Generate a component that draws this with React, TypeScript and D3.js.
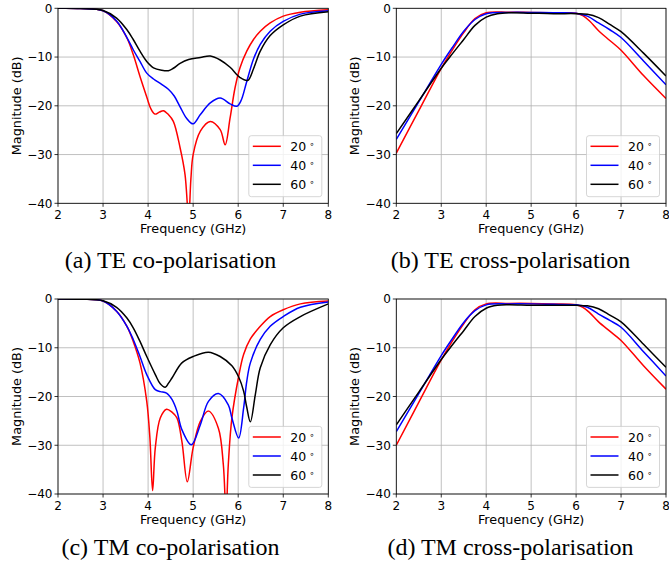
import React from 'react'
import { scaleLinear, line, curveCatmullRom } from 'd3'

type Pt = [number, number]

// frequency (GHz), magnitude (dB)
const teCo20: Pt[] = [[2, 0], [2.5, -0.05], [3, -0.5], [3.3, -2.7], [3.53, -6.1], [3.67, -9.5], [3.82, -14], [3.97, -18.2], [4.06, -20.6], [4.15, -21.7], [4.25, -21.3], [4.34, -21], [4.45, -21.8], [4.56, -23.2], [4.71, -28.6], [4.82, -34.1], [4.9, -43], [4.95, -35], [5.0, -30], [5.16, -25.2], [5.38, -23.2], [5.6, -24.9], [5.71, -28], [5.82, -22.5], [5.93, -16.3], [6.04, -12.2], [6.19, -8.8], [6.34, -6.4], [6.49, -4.7], [6.71, -3], [7.0, -1.6], [7.38, -0.8], [8, -0.3]]
const teCo40: Pt[] = [[2, 0], [2.5, -0.05], [3, -0.5], [3.3, -2.6], [3.53, -6], [3.67, -8.5], [3.82, -10.9], [3.97, -13.3], [4.12, -14.5], [4.3, -15.6], [4.45, -16.6], [4.58, -18], [4.71, -20.2], [4.85, -22.5], [5.0, -23.7], [5.16, -21.8], [5.38, -19.4], [5.6, -18.4], [5.82, -19.6], [5.97, -20.1], [6.06, -19], [6.19, -15], [6.34, -10.4], [6.49, -7.4], [6.71, -4.7], [7.0, -2.7], [7.38, -1.2], [8, -0.5]]
const teCo60: Pt[] = [[2, 0], [2.5, -0.05], [3, -0.45], [3.3, -2], [3.53, -4.4], [3.67, -6.4], [3.82, -8.8], [3.97, -10.9], [4.12, -12.2], [4.3, -12.7], [4.45, -12.8], [4.56, -12.3], [4.71, -11.3], [4.9, -10.5], [5.16, -10.1], [5.38, -9.8], [5.6, -10.6], [5.82, -12.1], [6.04, -14.2], [6.21, -14.8], [6.34, -12.4], [6.49, -8.8], [6.71, -5.6], [7.0, -3.4], [7.38, -1.6], [8, -0.7]]

const teX20: Pt[] = [[2, -29.7], [2.5, -21], [3, -12.3], [3.25, -8.5], [3.5, -5], [3.75, -2.1], [4, -0.9], [4.5, -0.8], [5, -0.85], [5.5, -0.9], [6, -1.0], [6.15, -1.5], [6.3, -2.6], [6.5, -4.6], [6.75, -6.6], [7, -8.6], [7.5, -13.8], [8, -18.5]]
const teX40: Pt[] = [[2, -26.9], [2.5, -19.2], [3, -11.5], [3.25, -8], [3.5, -4.7], [3.75, -2.3], [4, -1.1], [4.5, -0.85], [5, -0.85], [5.5, -0.9], [6, -1.0], [6.25, -1.6], [6.5, -3], [6.75, -4.4], [7, -6], [7.5, -10.8], [8, -15.7]]
const teX60: Pt[] = [[2, -25.7], [2.5, -19], [3, -12.3], [3.25, -9.3], [3.5, -6.4], [3.75, -3.5], [4, -1.8], [4.25, -1.1], [4.5, -0.9], [5, -1.0], [5.5, -1.1], [6, -1.1], [6.25, -1.2], [6.5, -1.9], [6.75, -3.3], [7, -4.8], [7.5, -9.2], [8, -13.9]]

const tmCo20: Pt[] = [[2, 0], [2.5, -0.05], [3, -0.4], [3.3, -2.5], [3.53, -5.6], [3.67, -8.7], [3.82, -13.1], [3.97, -21], [4.04, -28.5], [4.1, -39.3], [4.16, -30.5], [4.27, -24.4], [4.41, -22.6], [4.53, -23.2], [4.64, -24.4], [4.75, -29.2], [4.87, -37.5], [5.0, -30.5], [5.16, -25.1], [5.34, -23], [5.56, -26.5], [5.67, -34], [5.73, -44], [5.78, -34], [5.86, -24.4], [6.01, -15.9], [6.12, -11.4], [6.27, -8.2], [6.49, -5.6], [6.71, -3.6], [7.0, -2.2], [7.38, -1], [8, -0.4]]
const tmCo40: Pt[] = [[2, 0], [2.5, -0.05], [3, -0.4], [3.3, -2.5], [3.53, -5.6], [3.67, -8.3], [3.82, -11.8], [3.97, -15.5], [4.16, -18.6], [4.27, -19], [4.41, -19.3], [4.53, -20.6], [4.64, -23], [4.75, -26.8], [4.96, -29.9], [5.16, -25.8], [5.34, -21], [5.56, -19.4], [5.78, -21.7], [5.86, -24.4], [6.01, -28.5], [6.12, -22.4], [6.19, -16.9], [6.27, -13.1], [6.49, -8.3], [6.71, -5.6], [7.0, -3.6], [7.38, -1.7], [8, -0.6]]
const tmCo60: Pt[] = [[2, 0], [2.5, -0.05], [3, -0.35], [3.3, -1.7], [3.53, -3.9], [3.67, -5.9], [3.82, -8.7], [3.97, -11.8], [4.16, -15.5], [4.27, -17.4], [4.38, -18.1], [4.45, -17.3], [4.53, -16.2], [4.75, -13.1], [5.0, -11.8], [5.34, -10.9], [5.6, -11.8], [5.86, -13.7], [6.01, -16], [6.12, -18.9], [6.19, -22.2], [6.27, -25.2], [6.38, -19.6], [6.49, -14.1], [6.71, -9.4], [7.0, -5.9], [7.38, -3.6], [8, -1.0]]

const tmX20: Pt[] = [[2, -30], [2.5, -21.2], [3, -12.5], [3.25, -8.6], [3.5, -5.1], [3.75, -2.2], [4, -1.0], [4.5, -0.9], [5, -0.9], [5.5, -1.0], [6, -1.2], [6.15, -1.7], [6.3, -2.8], [6.5, -4.7], [6.75, -6.6], [7, -8.5], [7.5, -13.7], [8, -18.5]]
const tmX40: Pt[] = [[2, -27.2], [2.5, -19.4], [3, -11.6], [3.25, -8.1], [3.5, -4.8], [3.75, -2.4], [4, -1.2], [4.5, -1.0], [5, -1.0], [5.5, -1.1], [6, -1.2], [6.25, -1.7], [6.5, -3.1], [6.75, -4.4], [7, -5.8], [7.5, -10.8], [8, -15.8]]
const tmX60: Pt[] = [[2, -25.8], [2.5, -19.1], [3, -12.4], [3.25, -9.4], [3.5, -6.5], [3.75, -3.6], [4, -1.9], [4.25, -1.3], [4.5, -1.2], [5, -1.3], [5.5, -1.3], [6, -1.3], [6.25, -1.4], [6.5, -2.0], [6.75, -3.3], [7, -4.7], [7.5, -9.3], [8, -14.0]]

const angles = ['20', '40', '60']
const colors = ['#ff0000', '#0000ff', '#000000']
const xTicks = [2, 3, 4, 5, 6, 7, 8]
const yTicks = [0, -10, -20, -30, -40]
const captions = ['(a) TE co-polarisation', '(b) TE cross-polarisation', '(c) TM co-polarisation', '(d) TM cross-polarisation']

const FONT = 'DejaVu Sans'

type PanelProps = {
    id: string,
    x0: number,
    x1: number,
    y0: number,
    y1: number,
    series: Pt[][],
    caption: string,
    captionX: number,
    captionY: number
}

function Panel({ id, x0, x1, y0, y1, series, caption, captionX, captionY }: PanelProps) {
    const x = scaleLinear().domain([2, 8]).range([x0, x1])
    const y = scaleLinear().domain([-40, 0]).range([y1, y0])
    const fmt = y.tickFormat(5, 'd')
    const path = line<Pt>()
        .x((d) => x(d[0]))
        .y((d) => y(d[1]))
        .curve(curveCatmullRom.alpha(0.5))

    // legend box
    const lw = 73, lh = 61
    const lx = x1 - 6.5 - lw
    const ly = y1 - 6.6 - lh

    return (
        <g>
            <defs>
                <clipPath id={id}>
                    <rect x={x0} y={y0} width={x1 - x0} height={y1 - y0} />
                </clipPath>
            </defs>
            {xTicks.map((t) => (
                <line key={'gx' + t} x1={x(t)} x2={x(t)} y1={y0} y2={y1} stroke="#b0b0b0" strokeWidth={0.8} />
            ))}
            {yTicks.map((t) => (
                <line key={'gy' + t} x1={x0} x2={x1} y1={y(t)} y2={y(t)} stroke="#b0b0b0" strokeWidth={0.8} />
            ))}
            <g clipPath={`url(#${id})`}>
                {series.map((s, i) => (
                    <path key={i} d={path(s) || ''} fill="none" stroke={colors[i]} strokeWidth={1.5} />
                ))}
            </g>
            <rect x={x0} y={y0} width={x1 - x0} height={y1 - y0} fill="none" stroke="#000" strokeWidth={0.8} />
            {xTicks.map((t) => (
                <g key={'tx' + t}>
                    <line x1={x(t)} x2={x(t)} y1={y1} y2={y1 + 3.5} stroke="#000" strokeWidth={0.8} />
                    <text x={x(t)} y={y1 + 16} textAnchor="middle" fontFamily={FONT} fontSize={12}>{t}</text>
                </g>
            ))}
            {yTicks.map((t) => (
                <g key={'ty' + t}>
                    <line x1={x0 - 3.5} x2={x0} y1={y(t)} y2={y(t)} stroke="#000" strokeWidth={0.8} />
                    <text x={x0 - 5.5} y={y(t) + 4.4} textAnchor="end" fontFamily={FONT} fontSize={12}>{fmt(t)}</text>
                </g>
            ))}
            <text x={(x0 + x1) / 2} y={y1 + 30} textAnchor="middle" fontFamily={FONT} fontSize={12.8}>Frequency (GHz)</text>
            <text transform={`translate(${x0 - 37.5},${(y0 + y1) / 2}) rotate(-90)`} textAnchor="middle" fontFamily={FONT} fontSize={12.8}>Magnitude (dB)</text>
            <rect x={lx} y={ly} width={lw} height={lh} rx={2.5} fill="#fff" fillOpacity={0.8} stroke="#cccccc" strokeWidth={0.8} />
            {angles.map((a, i) => (
                <g key={a}>
                    <line x1={lx + 4} x2={lx + 32} y1={ly + 10.6 + i * 19} y2={ly + 10.6 + i * 19} stroke={colors[i]} strokeWidth={1.5} />
                    <text x={lx + 41.5} y={ly + 10.6 + i * 19 + 4.6} fontFamily={FONT} fontSize={12.5}>
                        {a}<tspan dx={3} dy={-4} fontSize={8.5}>∘</tspan>
                    </text>
                </g>
            ))}
            <text x={captionX} y={captionY} textAnchor="middle" fontFamily="Liberation Serif" fontSize={24}>{caption}</text>
        </g>
    )
}

export default function App() {
    const left = [58, 328.3]
    const right = [396.3, 666]
    const top = [8.3, 203.3]
    const bottom = [299, 494]
    return (
        <svg width={669} height={569} style={{ position: 'absolute', left: 0, top: 0, background: '#fff' }}>
            <Panel id="clipA" x0={left[0]} x1={left[1]} y0={top[0]} y1={top[1]} series={[teCo20, teCo40, teCo60]} caption={captions[0]} captionX={170.5} captionY={268.3} />
            <Panel id="clipB" x0={right[0]} x1={right[1]} y0={top[0]} y1={top[1]} series={[teX20, teX40, teX60]} caption={captions[1]} captionX={510.5} captionY={268.3} />
            <Panel id="clipC" x0={left[0]} x1={left[1]} y0={bottom[0]} y1={bottom[1]} series={[tmCo20, tmCo40, tmCo60]} caption={captions[2]} captionX={170.5} captionY={555} />
            <Panel id="clipD" x0={right[0]} x1={right[1]} y0={bottom[0]} y1={bottom[1]} series={[tmX20, tmX40, tmX60]} caption={captions[3]} captionX={510.5} captionY={555} />
        </svg>
    )
}
